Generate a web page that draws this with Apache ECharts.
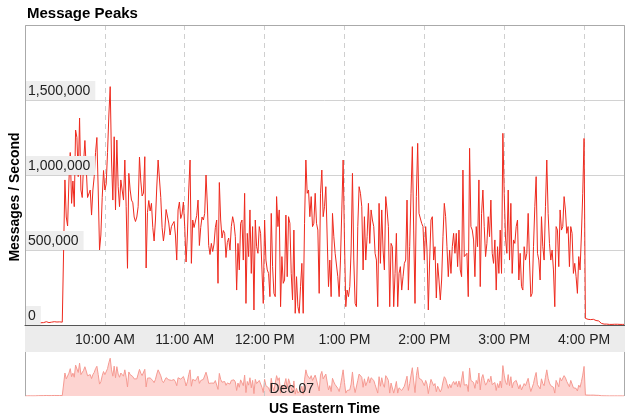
<!DOCTYPE html>
<html><head><meta charset="utf-8">
<script src="https://cdn.jsdelivr.net/npm/echarts@6/dist/echarts.min.js"></script>
<style>html,body{margin:0;padding:0;background:#fff}#c{width:633px;height:420px}</style>
</head><body><div id="c"></div>
<script>
// Minutes since midnight (US Eastern), one reading per minute
const START_MINUTE = 540;          // 9:00 AM
const END_MINUTE = 990;            // 4:30 PM
const VALUE_UNIT = 1000;           // values below are in thousands of messages / second

const preOpen = [5,5,6,5,7,6,5,6,7,8,14,16,15,18,16,20,22,18,16,21,19,17,22,25,20,18,21,23,19,30];

const session = [
  967,720,660,960,1150,811,960,789,1300,1250,
  989,1380,900,850,1080,1230,1050,850,850,900,
  733,900,990,1150,1250,900,500,600,850,1030,
  900,940,1150,1400,1589,1100,833,1255,767,1233,
  922,789,967,900,833,1100,789,378,1011,900,
  833,815,720,690,720,789,1120,960,860,880,
  1122,380,750,830,760,811,650,560,700,920,
  1100,1100,850,650,560,633,770,760,680,600,
  656,675,690,600,433,767,820,710,740,820,
  656,420,600,900,1100,411,700,650,640,730,
  833,530,650,720,700,744,1000,800,530,470,
  544,490,540,650,700,278,950,700,580,630,
  611,450,550,580,
  500,656,722,678,589,233,544,367,678,700,
  433,878,144,611,456,767,344,656,100,700,
  522,478,656,611,367,144,700,433,367,344,
  189,744,389,211,189,856,656,767,122,456,
  278,300,733,322,722,678,344,167,633,78,
  322,122,78,256,411,78,678,1100,878,900,
  722,856,656,678,878,678,633,211,878,1033,
  722,789,922,922,256,433,189,744,589,478,
  478,322,189,433,767,1100,567,122,233,189,
  256,500,1011,433,144,122,656,922,878,789,
  367,722,433,589,811,544,767,700,656,478,
  433,122,811,411,767,500,367,856,767,656,
  122,544,522,122,344,611,122,344,389,233,
  322,411,433,833,233,522,878,1189,633,144,
  856,1211,744,
  744,678,656,433,656,500,100,433,700,722,
  433,522,180,411,300,167,300,589,811,722,
  522,322,500,344,522,611,478,611,389,633,
  367,322,1033,456,456,478,189,1178,656,633,
  567,322,656,522,967,256,744,900,656,456,
  544,722,589,833,478,411,567,233,522,344,
  633,344,1278,878,580,478,900,433,811,344,
  567,544,656,700,300,478,256,233,522,433,
  478,744,433,189,211,522,789,989,478,433,
  300,722,522,433,789,1100,744,544,433,500,
  367,122,656,633,389,767,633,656,856,767,
  611,656,389,656,611,344,411,322,211,456,
  367,600,878,1244
];

const afterClose = [44,42,38,40,36,33,38,44,30,40,27,24,11,8,6,5,6,5,4,5,4,6,5,4,5,4,4,5,4,4];

const timeLabels = ['10:00 AM','11:00 AM','12:00 PM','1:00 PM','2:00 PM','3:00 PM','4:00 PM'];
const FIRST_LABEL_MINUTE = 600;
const HOUR = 60;
const navigatorDateLabel = 'Dec 07';
const navigatorDateMinute = 720;
const Y_MAX = 2000000, Y_STEP = 500000;
const NAV_Y_MAX = 1850000;

const allValues = preOpen.concat(session, afterClose);
const seriesData = allValues.map((v, i) => [START_MINUTE + i, v * VALUE_UNIT]);

const FONT = '"Liberation Sans", Arial, Helvetica, sans-serif';
function fmtNum(v) { return String(Math.round(v)).replace(/\B(?=(\d{3})+(?!\d))/g, ','); }
function fmtTime(v) {
  const idx = (v - FIRST_LABEL_MINUTE) / HOUR;
  return (idx >= 0 && idx < timeLabels.length && Number.isInteger(idx)) ? timeLabels[idx] : '';
}

const chart = echarts.init(document.getElementById('c'), null, { renderer: 'canvas' });
chart.setOption({
  animation: false,
  backgroundColor: '#fff',
  textStyle: { fontFamily: FONT },
  title: {
    text: 'Message Peaks', left: 27, top: 6, padding: 0,
    textStyle: { fontSize: 15, fontWeight: 'bold', color: '#000', fontFamily: FONT }
  },
  grid: [
    { left: 25, top: 25, width: 599, height: 300, containLabel: false },
    { left: 25, top: 352, width: 599, height: 44, containLabel: false }
  ],
  xAxis: [
    {
      gridIndex: 0, type: 'value', min: START_MINUTE, max: END_MINUTE, interval: HOUR,
      axisLine: { show: true, lineStyle: { color: '#555', width: 1 } },
      axisTick: { show: false },
      splitLine: { show: true, lineStyle: { color: '#cfcfcf', type: [5, 4], width: 1 } },
      axisLabel: {
        show: true, showMinLabel: false, showMaxLabel: false, margin: 8,
        fontSize: 14, color: '#222', fontFamily: FONT, formatter: fmtTime
      }
    },
    {
      gridIndex: 1, type: 'value', min: START_MINUTE, max: END_MINUTE, interval: HOUR, z: 10,
      axisLine: { show: false }, axisTick: { show: false }, splitLine: { show: false },
      axisLabel: {
        show: true, inside: true, margin: 0, align: 'left', verticalAlign: 'bottom',
        padding: [0, 0, 0, 5], fontSize: 14, color: '#222', fontFamily: FONT,
        showMinLabel: false, showMaxLabel: false,
        formatter: v => (v === navigatorDateMinute ? navigatorDateLabel : '')
      },
      name: 'US Eastern Time', nameLocation: 'middle', nameGap: 6,
      nameTextStyle: { fontSize: 14, fontWeight: 'bold', color: '#000', fontFamily: FONT, verticalAlign: 'top' }
    }
  ],
  yAxis: [
    {
      gridIndex: 0, type: 'value', min: 0, max: Y_MAX, interval: Y_STEP,
      axisLine: { show: false }, axisTick: { show: false }, axisLabel: { show: false },
      splitLine: { show: true, lineStyle: { color: '#d2d2d2', width: 1 } }
    },
    {
      gridIndex: 0, type: 'value', min: 0, max: Y_MAX, interval: Y_STEP, position: 'left', z: 10,
      axisLine: { show: false }, axisTick: { show: false }, splitLine: { show: false },
      axisLabel: {
        show: true, inside: true, margin: 0, showMaxLabel: false, verticalAlign: 'bottom', align: 'left',
        backgroundColor: '#eeeeee', padding: [3, 5, 2, 3], fontSize: 14, color: '#222', fontFamily: FONT,
        formatter: fmtNum
      }
    },
    {
      gridIndex: 1, type: 'value', min: 0, max: NAV_Y_MAX, show: false
    }
  ],
  series: [
    {
      type: 'line', xAxisIndex: 0, yAxisIndex: 0, data: seriesData,
      showSymbol: false, symbol: 'none', sampling: false, z: 3,
      lineStyle: { color: '#ee2a1e', width: 1 }
    },
    {
      type: 'line', xAxisIndex: 1, yAxisIndex: 2, data: seriesData,
      showSymbol: false, symbol: 'none', z: 2,
      lineStyle: { color: '#f59a92', width: 1 },
      areaStyle: { color: '#fdd4d1', opacity: 1 },
      markLine: {
        silent: true, symbol: 'none', label: { show: false },
        lineStyle: { color: '#c8c8c8', type: [5, 4], width: 1 },
        data: [{ xAxis: navigatorDateMinute }]
      }
    }
  ],
  graphic: [
    { type: 'rect', z: -1, shape: { x: 25, y: 326, width: 600, height: 26 }, style: { fill: '#ececec' } },
    { type: 'rect', z: 50, silent: true, shape: { x: 25.5, y: 25.5, width: 599, height: 300 }, style: { fill: 'none', stroke: '#aaaaaa', lineWidth: 1 } },
    { type: 'line', z: 50, silent: true, shape: { x1: 25.5, y1: 352, x2: 25.5, y2: 396 }, style: { stroke: '#aaaaaa', lineWidth: 1 } },
    { type: 'line', z: 50, silent: true, shape: { x1: 624.5, y1: 352, x2: 624.5, y2: 396 }, style: { stroke: '#aaaaaa', lineWidth: 1 } },
    { type: 'line', z: 51, silent: true, shape: { x1: 25, y1: 325.5, x2: 625, y2: 325.5 }, style: { stroke: '#555555', lineWidth: 1 } },
    {
      type: 'text', x: 15, y: 197, rotation: Math.PI / 2, z: 50,
      style: {
        text: 'Messages / Second', font: 'bold 14px ' + FONT, fill: '#000',
        align: 'center', verticalAlign: 'middle', textAlign: 'center', textVerticalAlign: 'middle'
      }
    }
  ]
});
</script>
</body></html>
